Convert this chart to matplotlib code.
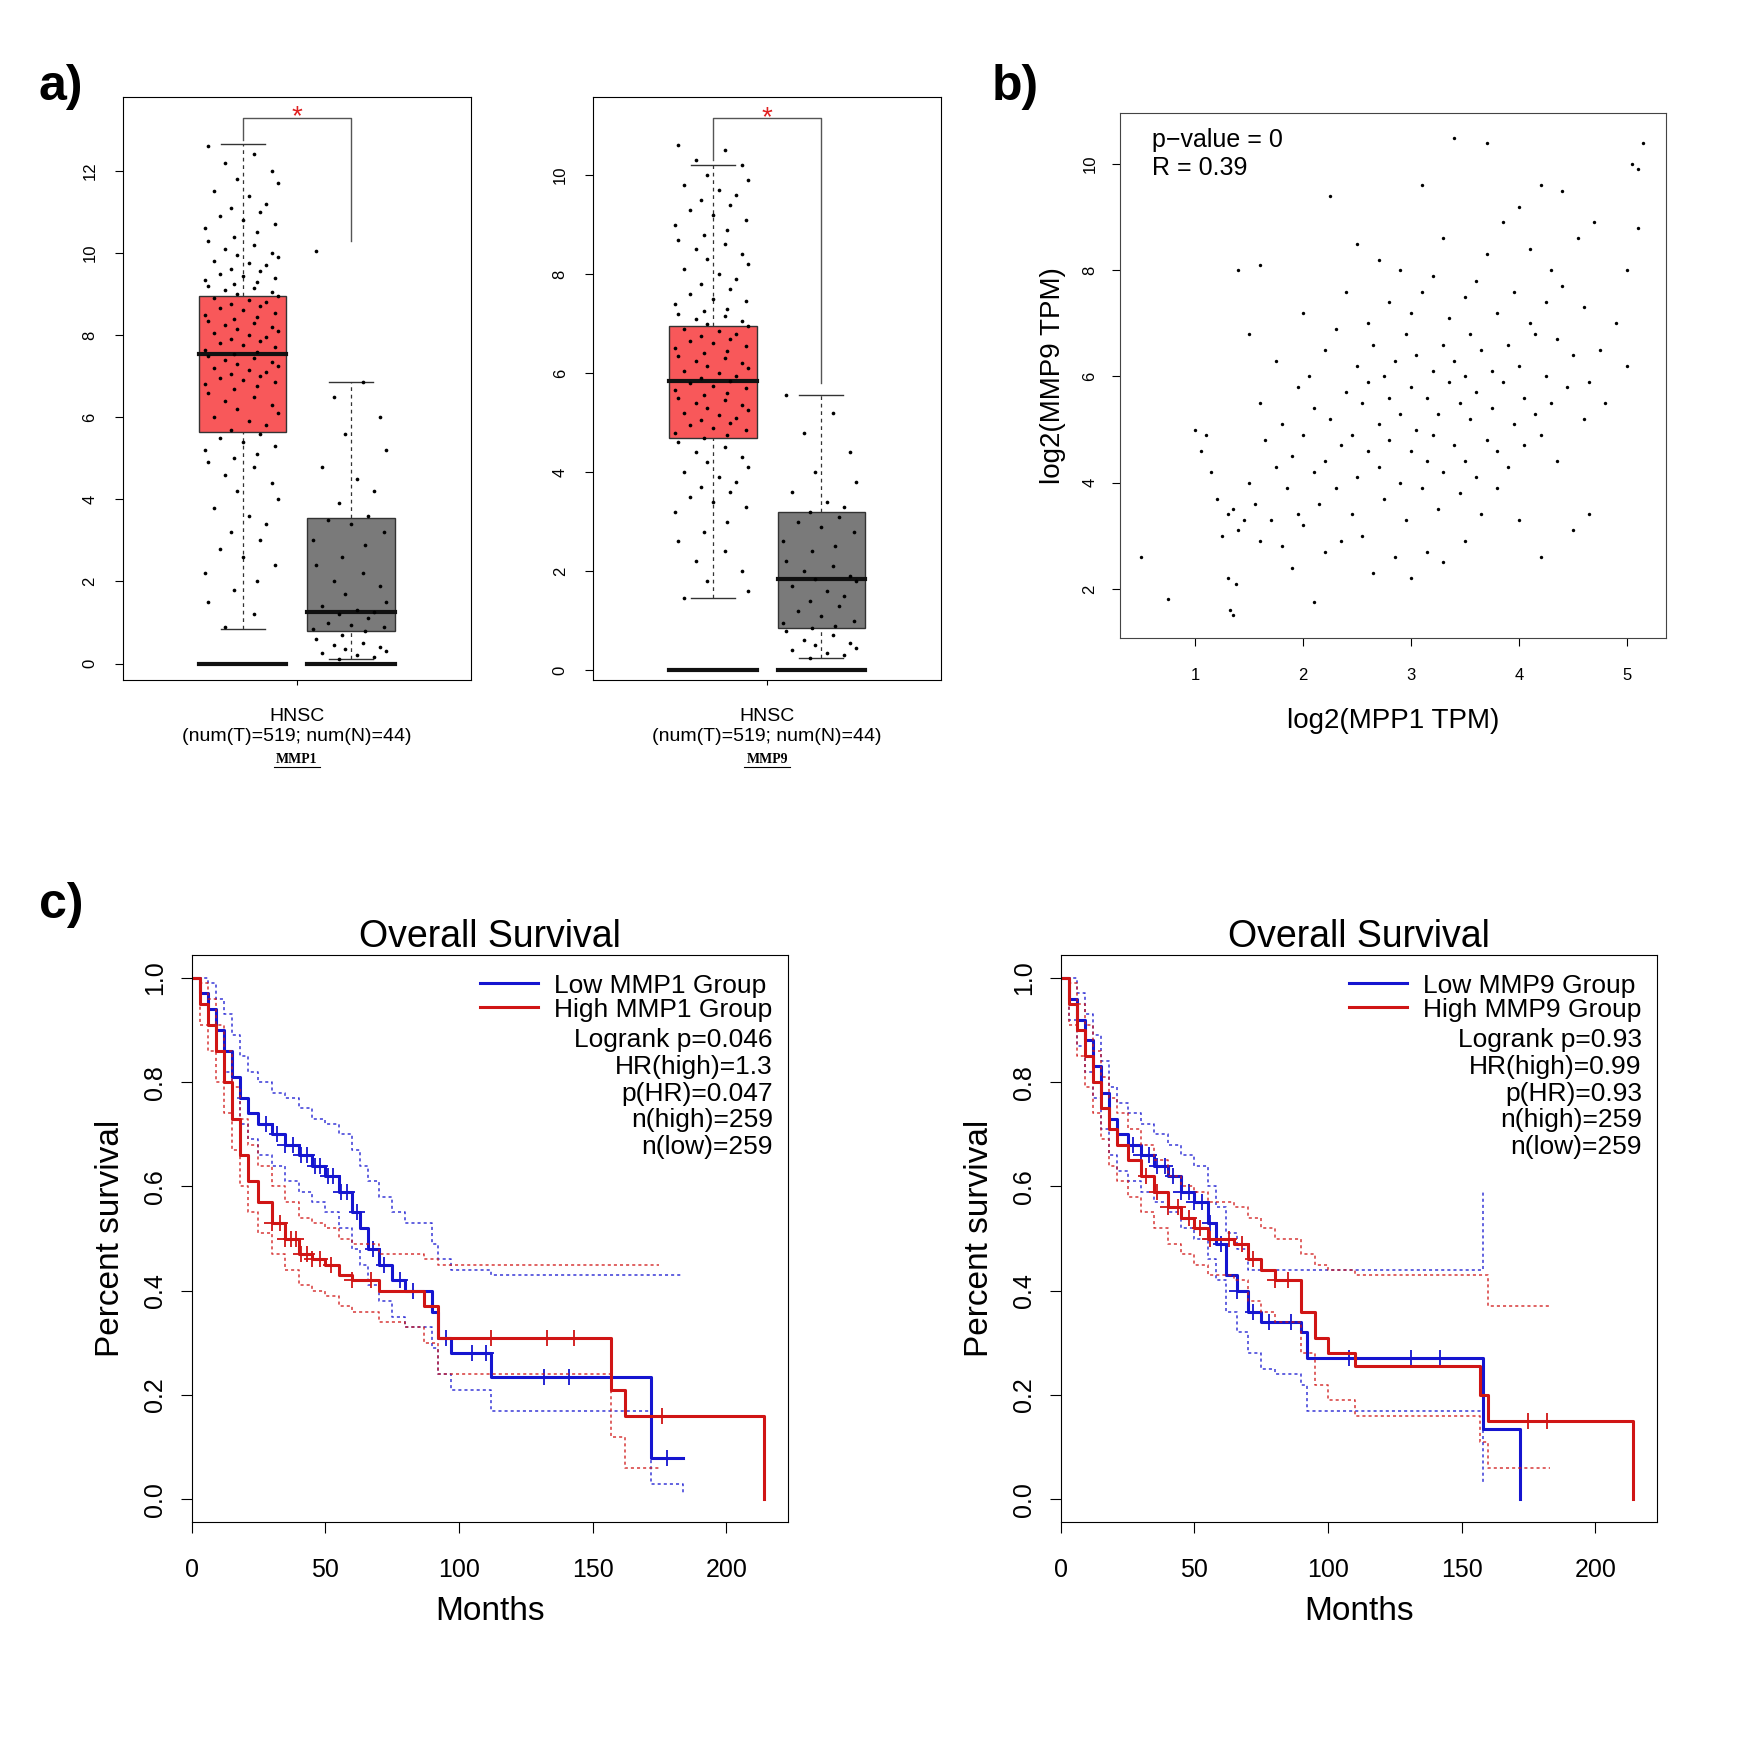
import numpy as np
import matplotlib.pyplot as plt
import matplotlib as mpl

plt.rcParams.update({'font.family': ['Liberation Sans', 'DejaVu Sans']})

# ---------------- data ----------------
# a) boxplots (MMP1, MMP9): tumor / normal
mmp1_tumor = [12.6,12.4,12.2,12.0,11.8,11.7,11.5,11.4,11.2,11.1,11.0,10.9,10.8,10.7,10.6,10.5,10.4,10.3,10.2,10.1,
              10.0,9.95,9.9,9.8,9.75,9.7,9.6,9.55,9.5,9.45,9.4,9.35,9.3,9.25,9.2,9.15,9.1,9.05,9.0,8.95,8.9,8.85,
              8.8,8.75,8.7,8.65,8.6,8.55,8.5,8.45,8.4,8.35,8.3,8.25,8.2,8.15,8.1,8.05,8.0,7.95,7.9,7.85,7.8,7.75,
              7.7,7.65,7.6,7.55,7.5,7.45,7.4,7.35,7.3,7.25,7.2,7.15,7.1,7.05,7.0,6.95,6.9,6.85,6.8,6.75,6.7,6.6,
              6.5,6.4,6.3,6.2,6.1,6.0,5.9,5.8,5.7,5.6,5.5,5.4,5.3,5.2,5.1,5.0,4.9,4.8,4.6,4.4,4.2,4.0,3.8,3.6,
              3.4,3.2,3.0,2.8,2.6,2.4,2.2,2.0,1.8,1.5,1.2,0.9]
mmp1_normal = [10.05,6.85,6.5,6.0,5.6,5.2,4.8,4.5,4.2,3.9,3.6,3.5,3.4,3.2,3.0,2.9,2.6,2.4,2.2,2.0,1.9,1.7,1.5,1.4,
               1.3,1.25,1.2,1.1,1.0,0.95,0.9,0.85,0.8,0.7,0.6,0.5,0.45,0.4,0.35,0.3,0.25,0.2,0.15,0.1]
mmp1_stats = {'tumor': (0.85, 5.65, 7.55, 8.95, 12.65), 'normal': (0.1, 0.8, 1.25, 3.55, 6.85)}

mmp9_tumor = [10.6,10.5,10.3,10.2,10.0,9.9,9.8,9.7,9.6,9.5,9.4,9.3,9.2,9.1,9.0,8.9,8.8,8.7,8.6,8.5,8.4,8.3,8.2,
              8.1,8.0,7.9,7.8,7.7,7.6,7.5,7.45,7.4,7.3,7.25,7.2,7.15,7.1,7.05,7.0,6.95,6.9,6.85,6.8,6.75,6.7,
              6.65,6.6,6.55,6.5,6.45,6.4,6.35,6.3,6.25,6.2,6.15,6.1,6.05,6.0,5.95,5.9,5.85,5.8,5.75,5.7,5.65,
              5.6,5.55,5.5,5.45,5.4,5.35,5.3,5.25,5.2,5.15,5.1,5.05,5.0,4.95,4.9,4.85,4.8,4.75,4.7,4.6,4.5,
              4.4,4.3,4.2,4.1,4.0,3.9,3.8,3.7,3.6,3.5,3.4,3.3,3.2,3.0,2.8,2.6,2.4,2.2,2.0,1.8,1.6,1.45]
mmp9_normal = [5.55,5.2,4.8,4.4,4.0,3.8,3.6,3.4,3.3,3.2,3.1,3.0,2.9,2.8,2.6,2.5,2.4,2.2,2.1,2.0,1.9,1.85,1.8,1.7,
               1.6,1.5,1.4,1.3,1.2,1.1,1.0,0.95,0.9,0.85,0.8,0.7,0.6,0.55,0.5,0.45,0.4,0.35,0.3,0.25]
mmp9_stats = {'tumor': (1.45, 4.7, 5.85, 6.95, 10.2), 'normal': (0.25, 0.85, 1.85, 3.2, 5.55)}

jitter = [-0.3, 0.1, -0.15, 0.25, -0.05, 0.3, -0.25, 0.05, 0.2, -0.1, 0.15, -0.2, 0.0, 0.28, -0.33, 0.12, -0.08]

# b) correlation scatter
sc_x = [0.5,0.75,1.0,1.05,1.1,1.15,1.2,1.25,1.3,1.3,1.32,1.35,1.35,1.38,1.4,1.4,1.45,1.5,1.5,1.55,1.6,1.6,1.6,
        1.65,1.7,1.75,1.75,1.8,1.8,1.85,1.9,1.9,1.95,1.95,2.0,2.0,2.0,2.05,2.1,2.1,2.1,2.15,2.2,2.2,2.2,2.25,
        2.25,2.3,2.3,2.35,2.35,2.4,2.4,2.45,2.45,2.5,2.5,2.5,2.55,2.55,2.6,2.6,2.6,2.65,2.65,2.7,2.7,2.7,2.75,
        2.75,2.8,2.8,2.8,2.85,2.85,2.9,2.9,2.9,2.95,2.95,3.0,3.0,3.0,3.0,3.05,3.05,3.1,3.1,3.1,3.15,3.15,3.15,
        3.2,3.2,3.2,3.25,3.25,3.3,3.3,3.3,3.3,3.35,3.35,3.4,3.4,3.4,3.45,3.45,3.5,3.5,3.5,3.5,3.55,3.55,3.6,
        3.6,3.6,3.65,3.65,3.7,3.7,3.7,3.75,3.75,3.8,3.8,3.8,3.85,3.85,3.9,3.9,3.95,3.95,4.0,4.0,4.0,4.05,4.05,
        4.1,4.1,4.15,4.15,4.2,4.2,4.2,4.25,4.25,4.3,4.3,4.35,4.35,4.4,4.4,4.45,4.5,4.5,4.55,4.6,4.6,4.65,4.65,
        4.7,4.75,4.8,4.9,5.0,5.05,5.1,5.1,5.15,5.0]
sc_y = [2.6,1.8,5.0,4.6,4.9,4.2,3.7,3.0,2.2,3.4,1.6,1.5,3.5,2.1,8.0,3.1,3.3,4.0,6.8,3.6,8.1,5.5,2.9,4.8,3.3,6.3,
        4.3,2.8,5.1,3.9,4.5,2.4,5.8,3.4,7.2,4.9,3.2,6.0,4.2,5.4,1.75,3.6,6.5,4.4,2.7,9.4,5.2,3.9,6.9,4.7,2.9,5.7,
        7.6,3.4,4.9,6.2,4.1,8.5,5.5,3.0,7.0,4.6,5.9,2.3,6.6,4.3,5.1,8.2,3.7,6.0,7.4,4.8,5.6,2.6,6.3,4.0,5.3,8.0,
        3.3,6.8,4.6,5.8,7.2,2.2,5.0,6.4,3.9,9.6,7.6,4.4,5.6,2.7,6.1,4.9,7.9,3.5,5.3,6.6,4.2,8.6,2.5,5.9,7.1,4.7,
        6.3,10.5,3.8,5.5,7.5,4.4,6.0,2.9,5.2,6.8,4.1,7.8,5.7,3.4,6.5,4.8,8.3,10.4,5.4,6.1,3.9,7.2,4.6,5.9,8.9,
        6.6,4.3,5.1,7.6,3.3,6.2,9.2,5.6,4.7,7.0,8.4,5.3,6.8,2.6,4.9,9.6,7.4,6.0,5.5,8.0,4.4,6.7,9.5,7.7,5.8,3.1,
        6.4,8.6,5.2,7.3,3.4,5.9,8.9,6.5,5.5,7.0,8.0,10.0,9.9,8.8,10.4,6.2]

# c) Kaplan-Meier curves (time in months, survival fraction)
km = {
    'MMP1': {
        'low': dict(t=[0,3,6,9,12,15,18,21,25,30,35,40,45,50,55,60,63,66,70,75,80,90,92,97,112,172,184],
                    s=[1,0.97,0.94,0.9,0.86,0.81,0.77,0.74,0.72,0.70,0.68,0.66,0.64,0.62,0.59,0.55,0.52,0.48,0.45,
                       0.42,0.40,0.36,0.31,0.28,0.235,0.08,0.08],
                    ci_t=[0,3,6,9,12,15,18,21,25,30,35,40,45,50,55,60,63,66,70,75,80,90,92,97,112,172,184],
                    hi=[1,1,0.99,0.96,0.93,0.89,0.85,0.82,0.80,0.78,0.77,0.75,0.73,0.72,0.70,0.67,0.64,0.61,0.58,
                        0.55,0.53,0.49,0.46,0.44,0.43,0.43,0.43],
                    lo=[1,0.95,0.91,0.86,0.82,0.77,0.72,0.69,0.66,0.64,0.61,0.59,0.57,0.55,0.52,0.48,0.45,0.41,0.38,
                        0.35,0.33,0.29,0.24,0.21,0.17,0.03,0.01],
                    cens=[28,32,35,38,41,43,46,48,51,53,56,58,62,68,72,78,83,95,105,110,132,141,178]),
        'high': dict(t=[0,3,6,9,12,15,18,21,25,30,35,40,45,50,55,60,70,80,87,92,157,162,214],
                     s=[1,0.95,0.91,0.86,0.80,0.73,0.66,0.61,0.57,0.53,0.50,0.47,0.46,0.45,0.43,0.42,0.40,0.40,
                        0.37,0.31,0.21,0.16,0],
                     ci_t=[0,3,6,9,12,15,18,21,25,30,35,40,45,50,55,60,70,80,87,92,157,162,175],
                     hi=[1,0.99,0.96,0.91,0.86,0.79,0.73,0.68,0.64,0.60,0.57,0.54,0.53,0.52,0.50,0.49,0.47,0.47,
                         0.46,0.45,0.45,0.45,0.45],
                     lo=[1,0.91,0.86,0.80,0.74,0.67,0.60,0.55,0.51,0.47,0.44,0.41,0.40,0.39,0.37,0.36,0.34,0.33,
                         0.30,0.24,0.12,0.06,0.06],
                     cens=[30,33,35,37,39,41,43,45,48,52,60,67,112,133,143,176]),
        'stats': ['Logrank p=0.046', 'HR(high)=1.3', 'p(HR)=0.047', 'n(high)=259', 'n(low)=259'],
    },
    'MMP9': {
        'low': dict(t=[0,3,6,9,12,15,18,21,25,30,35,40,45,50,55,58,62,66,70,75,80,90,92,158,172],
                    s=[1,0.96,0.92,0.88,0.83,0.78,0.73,0.70,0.68,0.66,0.64,0.62,0.59,0.57,0.53,0.49,0.43,0.40,
                       0.36,0.34,0.34,0.32,0.27,0.135,0],
                    ci_t=[0,3,6,9,12,15,18,21,25,30,35,40,45,50,55,58,62,66,70,75,80,90,92,158],
                    hi=[1,1,0.97,0.93,0.89,0.84,0.79,0.76,0.74,0.72,0.70,0.68,0.66,0.64,0.60,0.56,0.51,0.48,0.44,
                        0.44,0.44,0.44,0.44,0.59],
                    lo=[1,0.92,0.87,0.82,0.77,0.71,0.66,0.63,0.61,0.59,0.57,0.55,0.52,0.50,0.46,0.42,0.36,0.32,
                        0.28,0.25,0.24,0.22,0.17,0.03],
                    cens=[27,30,33,36,39,42,45,48,50,53,56,60,66,72,78,86,108,131,142]),
        'high': dict(t=[0,3,6,9,12,15,18,21,25,30,35,40,45,50,55,65,70,75,80,90,95,100,110,157,160,163,214],
                     s=[1,0.95,0.90,0.85,0.80,0.75,0.71,0.68,0.65,0.62,0.59,0.56,0.54,0.52,0.50,0.49,0.46,0.44,
                        0.42,0.36,0.31,0.28,0.255,0.20,0.15,0.15,0],
                     ci_t=[0,3,6,9,12,15,18,21,25,30,35,40,45,50,55,65,70,75,80,90,95,100,110,157,160,183],
                     hi=[1,0.99,0.95,0.91,0.86,0.81,0.77,0.74,0.71,0.68,0.65,0.62,0.60,0.59,0.57,0.56,0.54,0.52,
                         0.50,0.47,0.45,0.44,0.43,0.43,0.37,0.37],
                     lo=[1,0.91,0.85,0.79,0.74,0.69,0.64,0.61,0.58,0.55,0.52,0.49,0.47,0.45,0.43,0.42,0.38,0.36,
                         0.34,0.28,0.22,0.19,0.16,0.11,0.06,0.06],
                     cens=[32,36,40,44,48,52,56,63,68,72,80,85,175,182]),
        'stats': ['Logrank p=0.93', 'HR(high)=0.99', 'p(HR)=0.93', 'n(high)=259', 'n(low)=259'],
    },
}

# ---------------- figure ----------------
W = 1568.0
fig = plt.figure(figsize=(17.47, 17.48), dpi=100)


def rect(x1, y1, x2, y2):
    return [x1 / W, 1 - y2 / W, (x2 - x1) / W, (y2 - y1) / W]


def boxpanel(r, tumor, normal, stats, ylim, yticks, gene, bracket):
    ax = fig.add_axes(r)
    pos = {'tumor': 1.035, 'normal': 1.965}
    cols = {'tumor': '#f8585a', 'normal': '#7a7a7a'}
    for key, vals in (('tumor', tumor), ('normal', normal)):
        x0 = pos[key]
        lo, q1, med, q3, hi = stats[key]
        ax.add_patch(plt.Rectangle((x0 - 0.375, q1), 0.75, q3 - q1, fc=cols[key], ec='#333333', lw=1, zorder=1))
        ax.plot([x0 - 0.375, x0 + 0.375], [med, med], color='#111111', lw=3, zorder=2)
        ax.plot([x0, x0], [q3, hi], color='#333333', lw=0.9, ls=(0, (3, 3)))
        ax.plot([x0, x0], [lo, q1], color='#333333', lw=0.9, ls=(0, (3, 3)))
        ax.plot([x0 - 0.19, x0 + 0.19], [hi, hi], color='#333333', lw=1)
        ax.plot([x0 - 0.19, x0 + 0.19], [lo, lo], color='#333333', lw=1)
        ax.plot([x0 - 0.375, x0 + 0.375], [0, 0], color='#111111', lw=3)
        jx = [x0 + jitter[i % len(jitter)] for i in range(len(vals))]
        ax.scatter(jx, vals, s=7, c='black', zorder=3, lw=0)
    b_top, b_right = bracket
    ax.plot([pos['tumor'], pos['tumor'], pos['normal'], pos['normal']],
            [stats['tumor'][4] + 0.1, b_top, b_top, b_right], color='#555555', lw=1)
    ax.text((pos['tumor'] + pos['normal']) / 2, b_top, '*', color='#e02020', fontsize=20,
            ha='center', va='center')
    ax.set_xlim(0, 3)
    ax.set_ylim(*ylim)
    ax.set_yticks(yticks)
    ax.set_yticklabels([str(v) for v in yticks], rotation=90, va='center', fontsize=12)
    ax.set_xticks([1.5])
    ax.set_xticklabels([''])
    ax.tick_params(axis='y', length=6, pad=12)
    ax.text(1.5, -0.048, 'HNSC\n(num(T)=519; num(N)=44)', transform=ax.get_xaxis_transform(),
            ha='center', va='top', fontsize=14, linespacing=1.2)
    ax.text(1.5, -0.125, gene, transform=ax.get_xaxis_transform(), ha='center', va='top',
            fontsize=10, family='Liberation Serif', fontweight='bold')
    ax.plot([1.3, 1.7], [-0.15, -0.15], transform=ax.get_xaxis_transform(), color='black',
            lw=0.8, clip_on=False)
    return ax


boxpanel(rect(110, 87, 423, 610), mmp1_tumor, mmp1_normal, mmp1_stats, (-0.4, 13.8),
         [0, 2, 4, 6, 8, 10, 12], 'MMP1', (13.3, 10.3))
boxpanel(rect(532, 87, 845, 610), mmp9_tumor, mmp9_normal, mmp9_stats, (-0.2, 11.58),
         [0, 2, 4, 6, 8, 10], 'MMP9', (11.15, 5.8))

# b) scatter
axb = fig.add_axes(rect(1005, 101, 1495, 572))
axb.scatter(sc_x, sc_y, s=6, c='black', lw=0)
axb.set_xlim(0.3, 5.36)
axb.set_ylim(1.08, 10.97)
axb.set_xticks([1, 2, 3, 4, 5])
axb.set_yticks([2, 4, 6, 8, 10])
axb.set_yticklabels(['2', '4', '6', '8', '10'], rotation=90, va='center')
axb.tick_params(labelsize=12, length=6, pad=10)
axb.tick_params(axis='x', pad=16)
axb.set_xlabel('log2(MPP1 TPM)', fontsize=20, labelpad=18)
axb.set_ylabel('log2(MMP9 TPM)', fontsize=20, labelpad=12)
axb.text(0.06, 0.97, 'p\u2212value = 0\nR = 0.39', transform=axb.transAxes, ha='left', va='top',
         fontsize=18, linespacing=1.2)
for sp in axb.spines.values():
    sp.set_color('#444444')


# c) survival
def survpanel(r, gene):
    d = km[gene]
    ax = fig.add_axes(r)
    for key, col in (('low', '#1515d0'), ('high', '#d01515')):
        g = d[key]
        ax.step(g['t'], g['s'], where='post', color=col, lw=2.2)
        ax.step(g['ci_t'], g['hi'], where='post', color=col, lw=1.1, ls=(0, (2, 2)), alpha=0.85)
        ax.step(g['ci_t'], g['lo'], where='post', color=col, lw=1.1, ls=(0, (2, 2)), alpha=0.85)
        idx = np.searchsorted(g['t'], g['cens'], side='right') - 1
        ax.plot(g['cens'], np.array(g['s'])[idx], '+', color=col, ms=12, mew=1.3)
    ax.set_xlim(0, 223)
    ax.set_ylim(-0.043, 1.043)
    ax.set_xticks([0, 50, 100, 150, 200])
    ax.set_yticks([0, 0.2, 0.4, 0.6, 0.8, 1.0])
    ax.set_yticklabels(['0.0', '0.2', '0.4', '0.6', '0.8', '1.0'], rotation=90, va='center')
    ax.tick_params(labelsize=18, length=8, pad=10)
    ax.tick_params(axis='x', pad=18)
    ax.set_xlabel('Months', fontsize=24, labelpad=10)
    ax.set_ylabel('Percent survival', fontsize=24, labelpad=12)
    ax.set_title('Overall Survival', fontsize=27, pad=6)
    h1, = ax.plot([], [], color='#1515d0', lw=2.2)
    h2, = ax.plot([], [], color='#d01515', lw=2.2)
    ax.legend([h1, h2], ['Low %s Group' % gene, 'High %s Group' % gene], loc='upper right',
              bbox_to_anchor=(1.01, 1.005), frameon=False, fontsize=19, handlelength=2.2,
              labelspacing=0.0, borderpad=0.3, handletextpad=0.6)
    ax.text(0.975, 0.872, '\n'.join(d['stats']), transform=ax.transAxes, ha='right', va='top',
            fontsize=19, linespacing=1.15)
    return ax


survpanel(rect(172, 857, 707, 1365), 'MMP1')
survpanel(rect(952, 857, 1487, 1365), 'MMP9')

for lab, x, y in (('a)', 35, 78), ('b)', 890, 78), ('c)', 35, 812)):
    fig.text(x / W, 1 - y / W, lab, fontsize=36, fontweight='bold', va='center', ha='left')

fig.savefig('out.png', dpi=100)
